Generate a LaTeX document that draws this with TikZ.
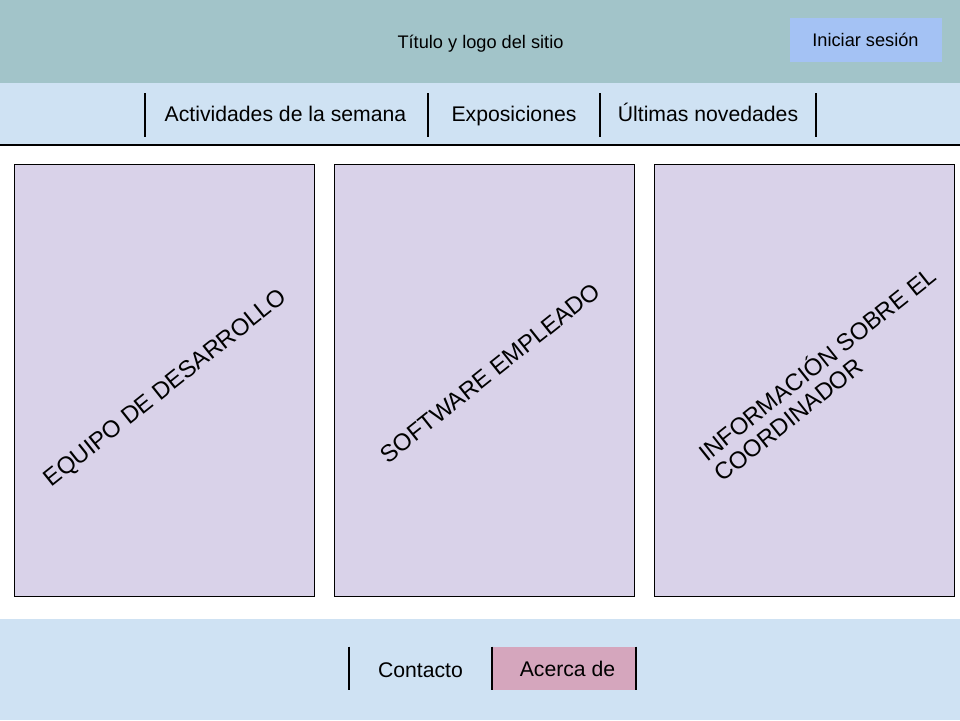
\documentclass[tikz,border=0pt]{standalone}
\usepackage{fontspec}
\setmainfont{Liberation Sans}
\definecolor{headerteal}{HTML}{A2C4C9}
\definecolor{loginblue}{HTML}{A4C2F4}
\definecolor{navblue}{HTML}{CFE2F3}
\definecolor{panellilac}{HTML}{D9D2E9}
\definecolor{aboutpink}{HTML}{D5A6BD}

\begin{document}
\begin{tikzpicture}[x=1pt, y=-1pt, every node/.style={inner sep=0pt},
  smalltext/.style={font=\fontsize{18.2}{22}\selectfont},
  navtext/.style={font=\fontsize{21.2}{25}\selectfont, anchor=base},
  panel/.style={draw=black, line width=0.9pt, fill=panellilac},
  paneltext/.style={font=\fontsize{23.8}{25.5}\selectfont, rotate=38.5, align=left},
  sep/.style={line width=2pt}]
  \useasboundingbox (0,0) rectangle (960,720);

  % Bands
  \fill[headerteal] (0,0) rectangle (960,83);
  \fill[navblue] (0,83) rectangle (960,145);
  \draw[line width=1.2pt] (0,145) -- (960,145);
  \fill[navblue] (0,619) rectangle (960,720);

  % Header
  \node[smalltext, anchor=base] (title) at (480.5,48.3) {Título y logo del sitio};
  \node[fill=loginblue, minimum width=152, minimum height=43.4] (login) at (866,40) {};
  \node[smalltext, anchor=base] (logintext) at (865.5,46.7) {Iniciar sesión};

  % Menu
  \node[navtext] (actividades) at (285.5,121.7) {Actividades de la semana};
  \node[navtext] (exposiciones) at (514,121.3) {Exposiciones};
  \node[navtext] (novedades) at (708,121.3) {Últimas novedades};
  \foreach \x in {144.5,427.5,600,816}
    \draw[sep] (\x,93.3) -- (\x,136.7);

  % Panels
  \draw[panel] (14,164) rectangle (314,596);
  \draw[panel] (334,164) rectangle (634,596);
  \draw[panel] (654,164) rectangle (954,596);
  \node[paneltext] (equipo) at (166,389) {EQUIPO DE DESARROLLO};
  \node[paneltext] (software) at (490,373) {SOFTWARE EMPLEADO};
  \node[paneltext] (coordinador) at (824,373) {INFORMACIÓN SOBRE EL\\COORDINADOR};

  % Footer
  \fill[aboutpink] (492.5,646.7) rectangle (636,690);
  \node[navtext] (contacto) at (420.5,677) {Contacto};
  \node[navtext] (acerca) at (567.5,676) {Acerca de};
  \foreach \x in {348.7,492.3,636}
    \draw[sep] (\x,646.7) -- (\x,690);
\end{tikzpicture}
\end{document}
